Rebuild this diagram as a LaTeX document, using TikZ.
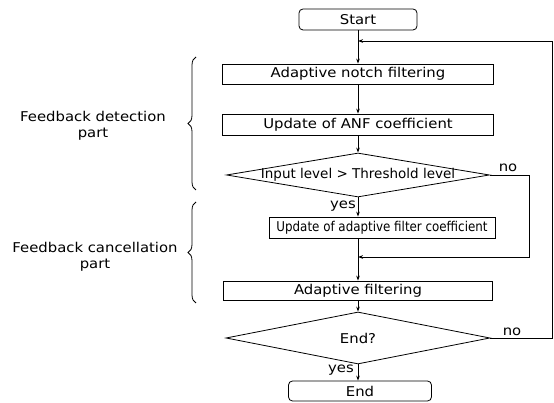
\documentclass[tikz,border=0pt]{standalone}
\usepackage{fontspec}
\setmainfont[FakeStretch=1.1]{DejaVu Sans}
\newfontfamily\midfont[FakeStretch=1.0]{DejaVu Sans}
\newfontfamily\narrowfont[FakeStretch=0.88]{DejaVu Sans}
\usetikzlibrary{shapes.geometric,arrows.meta,decorations.pathreplacing}
\newcommand{\mainsz}{\fontsize{13.5}{16}\selectfont}
\tikzset{
  base/.style={draw, line width=0.8pt, inner sep=0pt, font=\mainsz},
  term/.style={base, rounded corners=4pt},
  proc/.style={base},
  dec/.style={base, shape=diamond},
  arr/.style={line width=0.8pt, -{Stealth[length=5pt,width=3.6pt]}},
  lbl/.style={font=\mainsz, inner sep=0pt},
  brc/.style={decorate, decoration={brace, amplitude=8pt}, line width=0.8pt}
}
\begin{document}
\begin{tikzpicture}[x=1pt,y=1pt]
\useasboundingbox (0,0) rectangle (554,403);
% nodes
\node[term, minimum width=118pt, minimum height=21pt] (start) at (358,383.5) {Start};
\node[proc, minimum width=271pt, minimum height=20pt] (notch) at (358,329) {Adaptive notch filtering};
\node[proc, minimum width=271pt, minimum height=21pt] (anf) at (358,278.5) {Update of ANF coefficient};
\node[dec, minimum width=263pt, minimum height=44pt,
      label={[lbl]center:{\midfont Input level > Threshold level}}] (d1) at (358,228) {};
\node[proc, minimum width=226pt, minimum height=21pt] (uaf) at (382,175.5) {\narrowfont Update of adaptive filter coefficient};
\node[proc, minimum width=269pt, minimum height=19pt] (af) at (358,112.5) {Adaptive filtering};
\node[dec, minimum width=264pt, minimum height=52pt,
      label={[lbl]center:{End?}}] (d2) at (358,65) {};
\node[term, minimum width=143pt, minimum height=20pt] (end) at (360,12) {End};
% labels
\node[lbl] (yes1) at (343,197) {yes};
\node[lbl] (no1) at (508,235) {no};
\node[lbl] (no2) at (512,71) {no};
\node[lbl] (yes2) at (341,33) {yes};
\node[lbl, align=center] (det) at (93,277) {Feedback detection\\part};
\node[lbl, align=center] (canc) at (95,146.5) {Feedback cancellation\\part};
% helper coordinates
\coordinate (rt) at (552,0);
\coordinate (nt) at (529,0);
\coordinate (loopin) at (358,362);
\coordinate (merge) at (358,146);
% connectors
\draw[arr] (start) -- (notch);
\draw[arr] (notch) -- (anf);
\draw[arr] (anf) -- (d1);
\draw[arr] (d1.south) -- (d1.south |- uaf.north);
\draw[arr] (d1.south |- uaf.south) -- (af.north);
\draw[arr] (af) -- (d2);
\draw[arr] (d2.south) -- (d2.south |- end.north);
\draw[arr] (d1.east) -- (d1.east -| nt) -- (nt |- merge) -- (merge);
\draw[arr] (d2.east) -- (d2.east -| rt) -- (rt |- loopin) -- (loopin);
% braces
\draw[brc] (196,213) -- (196,346);
\draw[brc] (196,100) -- (196,201);
\end{tikzpicture}
\end{document}
